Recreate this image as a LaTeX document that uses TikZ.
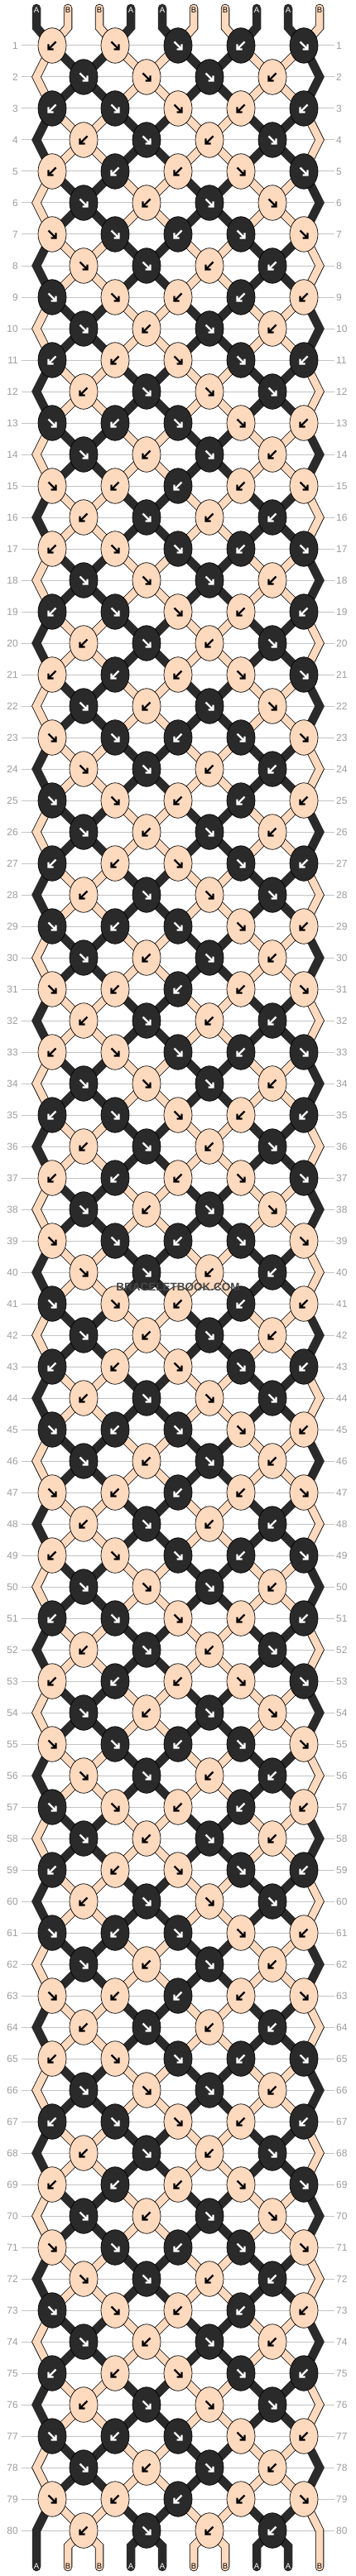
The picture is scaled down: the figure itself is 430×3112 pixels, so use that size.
\documentclass[tikz,border=0pt]{standalone}
\usepackage{fontspec}
\setmainfont{Liberation Sans}
\usetikzlibrary{shapes.geometric,backgrounds}

\definecolor{peach}{HTML}{FDD9BE}
\definecolor{ink}{HTML}{2A2A2A}
\definecolor{rulegray}{HTML}{C4C4C4}
\definecolor{numgray}{HTML}{9C9C9C}

\tikzset{
  knot/.style={ellipse, draw=black, line width=0.7pt, minimum width=34pt, minimum height=42.5pt, inner sep=0pt},
  knotK/.style={knot, fill=ink},
  knotP/.style={knot, fill=peach},
  arrK/.style={white, line width=2.4pt, line join=miter},
  arrP/.style={black, line width=2.4pt, line join=miter},
  dirR/.style={},
  dirL/.style={xscale=-1},
  threadA/.style={draw=ink, line width=10.5pt, line join=miter},
  threadB/.style={draw=black, line width=0.8pt, double=peach, double distance=8.9pt, line join=miter},
  rownum/.style={text=numgray, font=\fontsize{12}{12}\selectfont, inner sep=0pt},
  rowline/.style={draw=rulegray, line width=1pt},
  tagA/.style={text=white, font=\fontsize{9.5}{10}\selectfont, inner sep=0pt},
  tagB/.style={text=black, font=\fontsize{9.5}{10}\selectfont, inner sep=0pt},
  stamp/.style={text=black!72, font=\bfseries\fontsize{13.5}{14}\selectfont}
}

\begin{document}
\begin{tikzpicture}[x=1pt, y=-1pt]

\useasboundingbox (0,0) rectangle (430,3112);

%% Row numbers
\foreach \rw in {1,...,80}{
  \pgfmathsetmacro\yy{55+38*(\rw-1)}
  \node[rownum, anchor=east] (numL-\rw) at (22,\yy) {\rw};
  \node[rownum, anchor=west] (numR-\rw) at (406,\yy) {\rw};
}

%% Knots, 16 rows repeated 5 times
\foreach \codes [count=\j] in {
  {P/L,P/R,K/R,K/L,K/R},
  {K/R,P/R,K/R,P/L},
  {K/L,K/R,P/R,P/L,K/L},
  {P/L,K/R,P/L,K/R},
  {P/L,K/L,P/L,P/R,K/R},
  {K/R,P/L,K/R,P/R},
  {P/R,K/R,K/L,K/R,P/R},
  {P/R,K/R,P/L,K/L},
  {K/R,P/R,P/L,K/L,P/L},
  {K/R,P/L,K/R,P/L},
  {K/L,P/L,P/R,K/R,K/L},
  {P/L,K/R,P/R,K/R},
  {K/R,K/L,K/R,P/R,P/L},
  {K/R,P/L,K/R,P/L},
  {P/R,P/L,K/L,P/L,P/R},
  {P/L,K/R,P/L,K/L}}{
  \foreach \blk in {0,...,4}{
    \pgfmathtruncatemacro\rw{16*\blk+\j}
    \pgfmathsetmacro\yy{55+38*(\rw-1)}
    \pgfmathsetmacro\xo{mod(\j,2)==1 ? 63 : 101}
    \foreach \col/\dir [count=\kk from 0] in \codes{
      \node[knot\col] (k-\rw-\kk) at ({\xo+76*\kk},\yy) {};
      \draw[arr\col, shift={(k-\rw-\kk.center)}, dir\dir]
        (-4.5,-4.5) -- (4.5,4.5) (4.5,-1.5) -- (4.5,4.5) -- (-1.5,4.5);
    }
  }
}

%% Edge turning points
\foreach \rw in {2,4,...,80}{
  \pgfmathsetmacro\yy{55+38*(\rw-1)}
  \coordinate (eL-\rw) at (44,\yy);
  \coordinate (eR-\rw) at (386,\yy);
}

%% String ends
\foreach \p/\tg in {0/A,1/B,2/B,3/A,4/A,5/B,6/B,7/A,8/A,9/B}{
  \coordinate (top-\p) at ({44+38*\p},10);
  \coordinate (topbend-\p) at ({44+38*\p},33);
  \coordinate (botbend-\p) at ({44+38*\p},3076);
  \coordinate (bot-\p) at ({44+38*\p},3101);
  \node[tag\tg] (tagtop-\p) at ({44+38*\p},12) {\tg};
  \node[tag\tg] (tagbot-\p) at ({44+38*\p},3100) {\tg};
}

\node[stamp] (stamp) at (215,1555) {BRACELETBOOK.COM};

\begin{pgfonlayer}{background}
  %% Row lines
  \foreach \rw in {1,...,80}
    \draw[rowline] ([xshift=4pt]numL-\rw.east) -- ([xshift=-2pt]numR-\rw.west);

  %% Top and bottom ends
  \foreach \p/\tg in {0/A,1/B,2/B,3/A,4/A,5/B,6/B,7/A,8/A,9/B}{
    \pgfmathtruncatemacro\kk{div(\p,2)}
    \draw[thread\tg, line cap=round] (top-\p) -- (topbend-\p) -- (k-1-\kk.center);
  }
  \foreach \p/\tg in {1/B,2/B,3/A,4/A,5/B,6/B,7/A,8/A}{
    \pgfmathtruncatemacro\kk{div(\p-1,2)}
    \draw[thread\tg, line cap=round] (k-80-\kk.center) -- (botbend-\p) -- (bot-\p);
  }

  %% Edge strings
  \foreach \rw in {2,4,...,78}{
    \pgfmathtruncatemacro\ra{\rw-1}
    \pgfmathtruncatemacro\rb{\rw+1}
    \pgfmathtruncatemacro\m{mod(\rw,4)}
    \ifnum\m=0 \def\kl{A}\def\kr{B}\else\def\kl{B}\def\kr{A}\fi
    \draw[thread\kl] (k-\ra-0.center) -- (eL-\rw) -- (k-\rb-0.center);
    \draw[thread\kr] (k-\ra-4.center) -- (eR-\rw) -- (k-\rb-4.center);
  }
  \draw[threadA, line cap=round] (k-79-0.center) -- (eL-80) -- (bot-0);
  \draw[threadB, line cap=round] (k-79-4.center) -- (eR-80) -- (bot-9);

  %% Strings leaving odd rows
  \foreach \rw in {1,3,...,79}{
    \pgfmathtruncatemacro\rb{\rw+1}
    \pgfmathtruncatemacro\sw{mod(\rw,4)==1 ? 1 : 0}
    \foreach \kk in {1,...,4}{
      \pgfmathtruncatemacro\kn{\kk-1}
      \pgfmathtruncatemacro\ca{mod(\kk,2)==0 ? 1 : 0}
      \ifnum\ca=\sw \def\kind{B}\else\def\kind{A}\fi
      \draw[thread\kind] (k-\rw-\kk.center) -- (k-\rb-\kn.center);
    }
    \foreach \kk in {0,...,3}{
      \pgfmathtruncatemacro\ca{mod(\kk,2)==1 ? 1 : 0}
      \ifnum\ca=\sw \def\kind{B}\else\def\kind{A}\fi
      \draw[thread\kind] (k-\rw-\kk.center) -- (k-\rb-\kk.center);
    }
  }

  %% Strings leaving even rows
  \foreach \rw in {2,4,...,78}{
    \pgfmathtruncatemacro\rb{\rw+1}
    \pgfmathtruncatemacro\sw{mod(\rw,4)==2 ? 1 : 0}
    \foreach \kk in {0,...,3}{
      \pgfmathtruncatemacro\kn{\kk+1}
      \pgfmathtruncatemacro\ca{mod(\kk,2)==1 ? 1 : 0}
      \ifnum\ca=\sw \def\kind{B}\else\def\kind{A}\fi
      \draw[thread\kind] (k-\rw-\kk.center) -- (k-\rb-\kk.center);
      \draw[thread\kind] (k-\rw-\kk.center) -- (k-\rb-\kn.center);
    }
  }
\end{pgfonlayer}

\end{tikzpicture}
\end{document}
